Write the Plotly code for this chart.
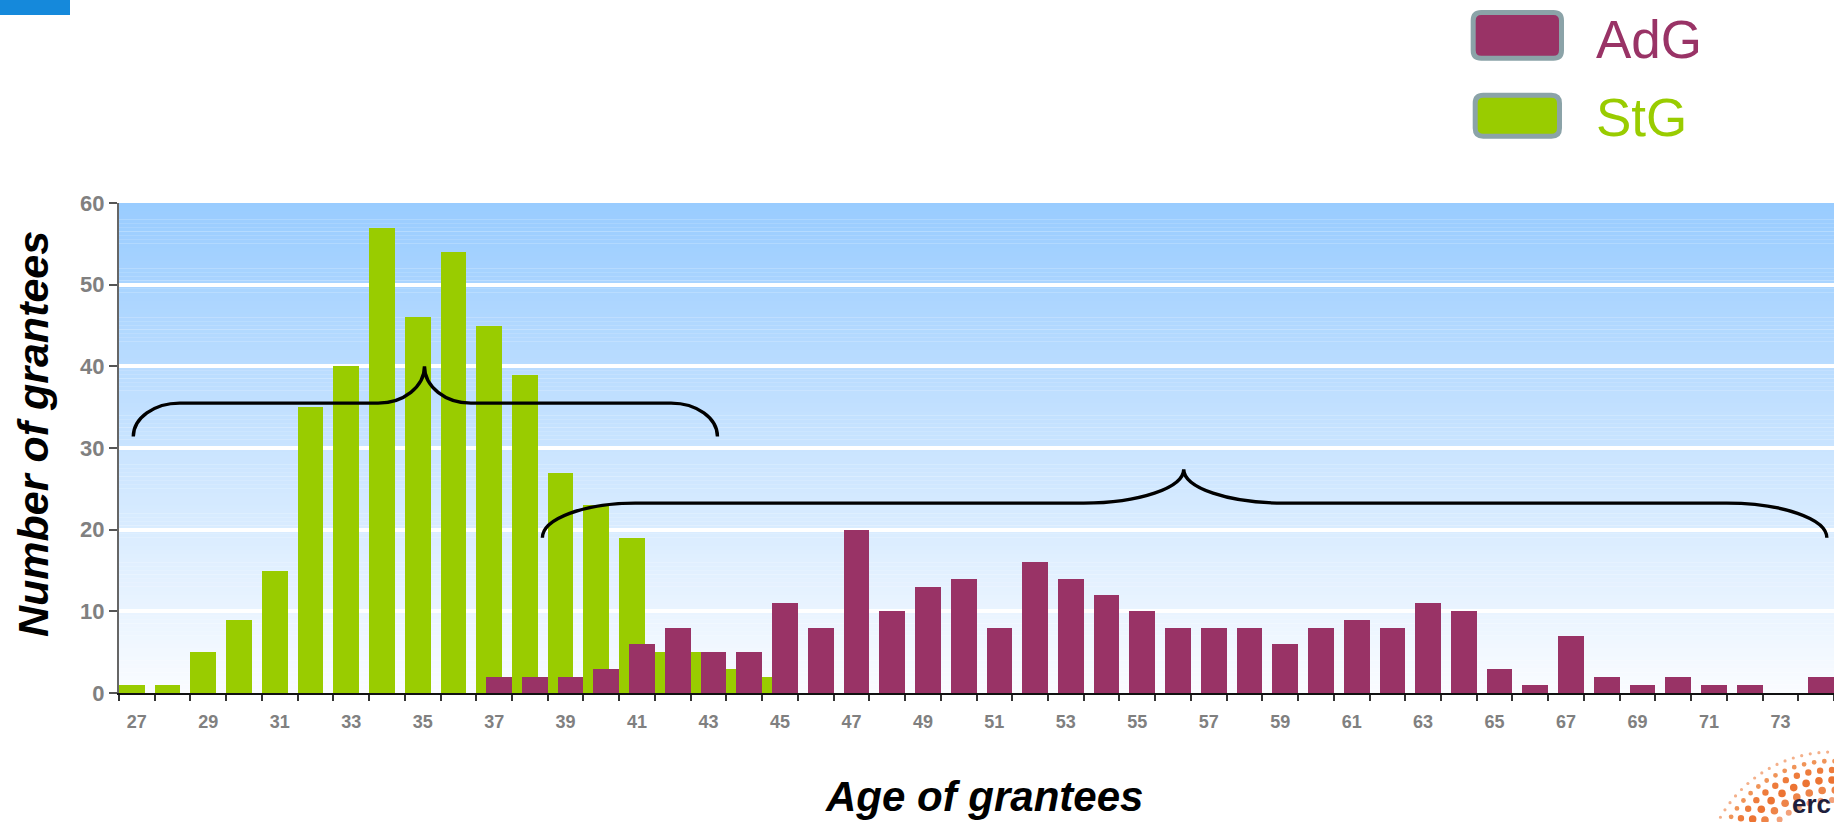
import math
import plotly.graph_objects as go

# ---- data -------------------------------------------------------------
stg_ages = list(range(27, 46))
stg_counts = [1, 1, 5, 9, 15, 35, 40, 57, 46, 54, 45, 39, 27, 23, 19, 5, 5, 3, 2]

adg_ages = list(range(37, 75))
adg_counts = [2, 2, 2, 3, 6, 8, 5, 5, 11, 8, 20, 10, 13, 14, 8, 16, 14, 12, 10, 8,
              8, 8, 6, 8, 9, 8, 11, 10, 3, 1, 7, 2, 1, 2, 1, 1, 0, 2]

x_tick_labels = [str(a) for a in range(27, 75, 2)]
y_tick_values = [0, 10, 20, 30, 40, 50, 60]

# ---- page geometry ----------------------------------------------------
W, H = 1834, 822
ML, MR, MT, MB = 119, 0, 203, 129
PW, PH = W - ML - MR, H - MT - MB

PURPLE = "#993366"
GREEN = "#99cc00"
FRAME = "#8ba3a8"
GREY = "#808080"
FONT = "Liberation Sans, Arial, sans-serif"


def px(x):
    return (x - ML) / PW


def py(y):
    return (H - MB - y) / PH


fig = go.Figure()

fig.add_trace(go.Bar(
    x=stg_ages, y=stg_counts, name="StG",
    marker=dict(color=GREEN, line=dict(width=0)),
    width=0.72, offset=-0.5, showlegend=False,
))
fig.add_trace(go.Bar(
    x=adg_ages, y=adg_counts, name="AdG",
    marker=dict(color=PURPLE, line=dict(width=0)),
    width=0.72, offset=-0.22, showlegend=False,
))

shapes = []

# vertical blue-to-white gradient behind the bars
n_bands = 120
top_rgb = (153, 204, 255)
bot_rgb = (250, 252, 255)
for i in range(n_bands):
    y0 = 60 * i / n_bands
    y1 = 60 * (i + 1) / n_bands
    t = (y0 + y1) / 2 / 60
    c = tuple(round(b + (tp - b) * t) for b, tp in zip(bot_rgb, top_rgb))
    shapes.append(dict(
        type="rect", xref="paper", yref="y", x0=0, x1=1, y0=y0, y1=y1 + 0.02,
        fillcolor=f"rgb{c}", line=dict(width=0), layer="below",
    ))


def brace_path(x0, x1, ye, yh, xt, yt, we0, we1, wt):
    k = 0.552
    return (
        f"M {x0},{ye} "
        f"C {x0},{ye + (yh - ye) * k} {x0 + we0 * (1 - k)},{yh} {x0 + we0},{yh} "
        f"L {xt - wt},{yh} "
        f"C {xt - wt * (1 - k)},{yh} {xt},{yt - (yt - yh) * k} {xt},{yt} "
        f"C {xt},{yt - (yt - yh) * k} {xt + wt * (1 - k)},{yh} {xt + wt},{yh} "
        f"L {x1 - we1},{yh} "
        f"C {x1 - we1 * (1 - k)},{yh} {x1},{ye + (yh - ye) * k} {x1},{ye}"
    )


# braces grouping the two grant types
braces = [
    (26.9, 43.25, 31.4, 35.5, 35.05, 40.0, 1.3, 1.3, 1.3),
    (38.35, 74.3, 19.0, 23.25, 56.3, 27.4, 2.6, 2.8, 2.8),
]
for b in braces:
    shapes.append(dict(
        type="path", xref="x", yref="y", path=brace_path(*b),
        line=dict(color="black", width=3.4), layer="above",
    ))


def rounded_rect(x0, y0, x1, y1, r):
    pts = [
        ("M", [(x0 + r, y0)]), ("L", [(x1 - r, y0)]), ("Q", [(x1, y0), (x1, y0 + r)]),
        ("L", [(x1, y1 - r)]), ("Q", [(x1, y1), (x1 - r, y1)]),
        ("L", [(x0 + r, y1)]), ("Q", [(x0, y1), (x0, y1 - r)]),
        ("L", [(x0, y0 + r)]), ("Q", [(x0, y0), (x0 + r, y0)]),
    ]
    out = []
    for cmd, coords in pts:
        out.append(cmd + " " + " ".join(f"{px(a):.5f},{py(b):.5f}" for a, b in coords))
    return " ".join(out) + " Z"


# legend swatches
legend_items = [
    ("AdG", PURPLE, (1473.2, 12.5, 1561.5, 58.2), 39.2),
    ("StG", GREEN, (1475.2, 95.2, 1559.5, 136.2), 117.5),
]
annotations = []
for label, color, box, ymid in legend_items:
    shapes.append(dict(
        type="path", xref="paper", yref="paper", path=rounded_rect(*box, 8),
        fillcolor=color, line=dict(color=FRAME, width=5), layer="above",
    ))
    annotations.append(dict(
        text=label, xref="paper", yref="paper", x=px(1594), y=py(ymid),
        xanchor="left", yanchor="middle", showarrow=False,
        font=dict(family=FONT, size=53, color=color),
    ))

# corner tab at the top left
shapes.append(dict(
    type="rect", xref="paper", yref="paper", x0=px(0), x1=px(70), y0=py(15), y1=py(0),
    fillcolor="#1589db", line=dict(width=0), layer="above",
))

# dotted emblem in the bottom right corner
cx, cy = 1832, 880
rings = [(80, 3.0), (90, 3.8), (100, 3.8), (110, 3.2), (119, 2.4), (128, 1.6)]
ring_colors = ["#f3a17a", "#ee8448", "#ec7433", "#ee7c3c", "#f09458", "#f4b08a"]
for ri, ((rad, dot), col) in enumerate(zip(rings, ring_colors)):
    n = int(round(2 * math.pi * rad / (dot * 2 + 5.5)))
    for j in range(n):
        ang = 2 * math.pi * (j + 0.5 * (ri % 2)) / n
        x = cx + rad * math.cos(ang)
        y = cy + rad * math.sin(ang)
        if 1700 < x < W + 6 and 740 < y < H + 6:
            shapes.append(dict(
                type="circle", xref="paper", yref="paper",
                x0=px(x - dot), x1=px(x + dot), y0=py(y + dot), y1=py(y - dot),
                fillcolor=col, line=dict(width=0), layer="above",
            ))
annotations.append(dict(
    text="<b>erc</b>", xref="paper", yref="paper", x=px(1833), y=py(821),
    xanchor="right", yanchor="bottom", showarrow=False,
    font=dict(family=FONT, size=26, color="#1e1e3c"),
))

# axis titles
annotations.append(dict(
    text="<b><i>Age of grantees</i></b>", xref="paper", yref="paper",
    x=px(984), y=py(796), xanchor="center", yanchor="middle", showarrow=False,
    font=dict(family=FONT, size=42, color="black"),
))
annotations.append(dict(
    text="<b><i>Number of grantees</i></b>", xref="paper", yref="paper",
    x=px(33), y=py(434), xanchor="center", yanchor="middle", showarrow=False,
    textangle=-90,
    font=dict(family=FONT, size=43, color="black"),
))

fig.update_layout(
    width=W, height=H,
    margin=dict(l=ML, r=MR, t=MT, b=MB, pad=0),
    paper_bgcolor="white", plot_bgcolor="white",
    barmode="overlay", bargap=0,
    shapes=shapes, annotations=annotations,
    font=dict(family=FONT),
)

fig.update_xaxes(
    range=[26.5, 74.5],
    tickmode="array", tickvals=list(range(27, 75, 2)), ticktext=x_tick_labels,
    ticks="outside", ticklen=11, tickcolor="rgba(0,0,0,0)",
    tickfont=dict(family=FONT, size=18, color=GREY, weight="bold"),
    minor=dict(tickvals=[a + 0.5 for a in range(26, 75)], ticks="outside",
               ticklen=6, tickwidth=2, tickcolor="#333333", showgrid=False),
    showline=True, linecolor="#111111", linewidth=2,
    showgrid=False, zeroline=False, fixedrange=True,
)
fig.update_yaxes(
    range=[0, 60],
    tickmode="array", tickvals=y_tick_values,
    ticks="outside", ticklen=8, tickwidth=2, tickcolor="#555555",
    tickfont=dict(family=FONT, size=22, color=GREY, weight="bold"),
    showline=True, linecolor="#666666", linewidth=2,
    showgrid=True, gridcolor="white", gridwidth=3.5,
    zeroline=False, fixedrange=True,
)

fig.write_html("out.html")
